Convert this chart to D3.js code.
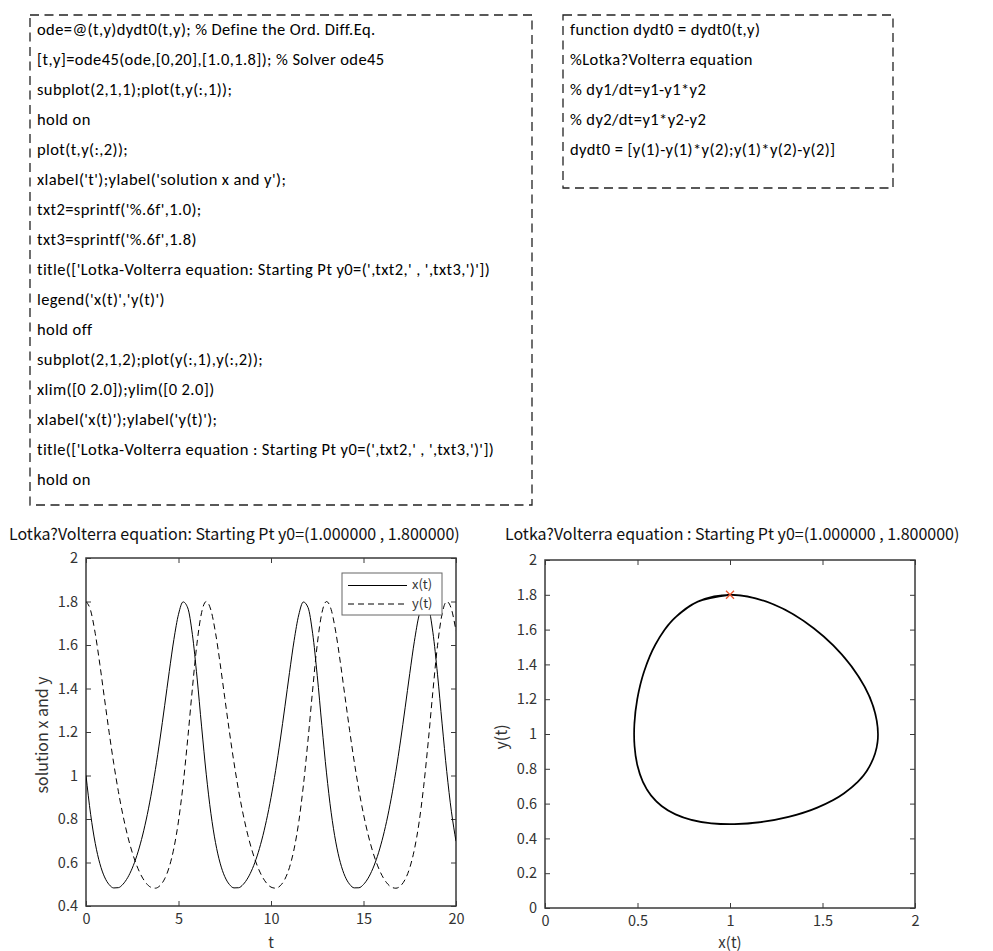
<!DOCTYPE html>
<html>
<head>
<meta charset="utf-8">
<script src="https://cdn.jsdelivr.net/npm/d3@7"></script>
<style>
  html, body { margin: 0; padding: 0; background: #fff; }
  svg { display: block; }
</style>
</head>
<body>
<svg id="chart" width="993" height="951"></svg>
<script>
// ---------------- data ----------------
const codeLinesMain = [
  "ode=@(t,y)dydt0(t,y); % Define the Ord. Diff.Eq.",
  "[t,y]=ode45(ode,[0,20],[1.0,1.8]); % Solver ode45",
  "subplot(2,1,1);plot(t,y(:,1));",
  "hold on",
  "plot(t,y(:,2));",
  "xlabel('t');ylabel('solution x and y');",
  "txt2=sprintf('%.6f',1.0);",
  "txt3=sprintf('%.6f',1.8)",
  "title(['Lotka-Volterra equation: Starting Pt y0=(',txt2,' , ',txt3,')'])",
  "legend('x(t)','y(t)')",
  "hold off",
  "subplot(2,1,2);plot(y(:,1),y(:,2));",
  "xlim([0 2.0]);ylim([0 2.0])",
  "xlabel('x(t)');ylabel('y(t)');",
  "title(['Lotka-Volterra equation : Starting Pt y0=(',txt2,' , ',txt3,')'])",
  "hold on"
];
const codeLinesFunc = [
  "function dydt0 = dydt0(t,y)",
  "%Lotka?Volterra equation",
  "% dy1/dt=y1-y1*y2",
  "% dy2/dt=y1*y2-y2",
  "dydt0 = [y(1)-y(1)*y(2);y(1)*y(2)-y(2)]"
];

const titleLeft = "Lotka?Volterra equation: Starting Pt y0=(1.000000 , 1.800000)";
const titleRight = "Lotka?Volterra equation : Starting Pt y0=(1.000000 , 1.800000)";

const tValues = [
  0,0.25,0.5,0.75,1,1.25,1.5,1.75,2,2.25,2.5,2.75,3,3.25,3.5,3.75,4,4.25,4.5,4.75,
  5,5.25,5.5,5.75,6,6.25,6.5,6.75,7,7.25,7.5,7.75,8,8.25,8.5,8.75,9,9.25,9.5,9.75,
  10,10.25,10.5,10.75,11,11.25,11.5,11.75,12,12.25,12.5,12.75,13,13.25,13.5,13.75,
  14,14.25,14.5,14.75,15,15.25,15.5,15.75,16,16.25,16.5,16.75,17,17.25,17.5,17.75,
  18,18.25,18.5,18.75,19,19.25,19.5,19.75,20
];
const xSeries = [
  1.0000,0.8216,0.6880,0.5947,0.5338,0.4984,0.4830,0.4843,0.5003,0.5302,0.5739,0.6320,0.7055,
  0.7953,0.9024,1.0270,1.1677,1.3207,1.4780,1.6253,1.7412,1.7981,1.7704,1.6489,1.4524,1.2235,
  1.0060,0.8263,0.6914,0.5970,0.5352,0.4991,0.4832,0.4840,0.4996,0.5291,0.5724,0.6300,0.7031,
  0.7924,0.8989,1.0230,1.1633,1.3160,1.4733,1.6212,1.7385,1.7976,1.7727,1.6538,1.4590,1.2304,
  1.0120,0.8310,0.6947,0.5993,0.5366,0.4999,0.4834,0.4838,0.4989,0.5280,0.5709,0.6281,0.7006,
  0.7894,0.8955,1.0190,1.1588,1.3113,1.4687,1.6172,1.7357,1.7970,1.7749,1.6588,1.4657,1.2373,
  1.0180,0.8356,0.6981
];
const ySeries = [
  1.8000,1.7587,1.6526,1.5098,1.3531,1.1984,1.0547,0.9267,0.8160,0.7226,0.6459,0.5847,0.5380,
  0.5053,0.4864,0.4820,0.4937,0.5247,0.5798,0.6658,0.7905,0.9597,1.1698,1.3995,1.6080,1.7500,
  1.7999,1.7611,1.6565,1.5144,1.3578,1.2029,1.0588,0.9303,0.8191,0.7252,0.6480,0.5863,0.5392,
  0.5061,0.4868,0.4819,0.4931,0.5234,0.5777,0.6627,0.7861,0.9540,1.1630,1.3927,1.6025,1.7471,
  1.7998,1.7634,1.6603,1.5190,1.3626,1.2074,1.0629,0.9339,0.8221,0.7277,0.6500,0.5879,0.5404,
  0.5069,0.4871,0.4818,0.4925,0.5222,0.5756,0.6596,0.7817,0.9482,1.1563,1.3859,1.5971,1.7441,
  1.7997,1.7658,1.6642
];
const startPoint = [1.0, 1.8];

const leftXTicks = [0, 5, 10, 15, 20];
const leftXTickLabels = ["0", "5", "10", "15", "20"];
const leftYTicks = [0.4, 0.6, 0.8, 1.0, 1.2, 1.4, 1.6, 1.8, 2.0];
const leftYTickLabels = ["0.4", "0.6", "0.8", "1", "1.2", "1.4", "1.6", "1.8", "2"];
const rightXTicks = [0, 0.5, 1, 1.5, 2];
const rightXTickLabels = ["0", "0.5", "1", "1.5", "2"];
const rightYTicks = [0, 0.2, 0.4, 0.6, 0.8, 1.0, 1.2, 1.4, 1.6, 1.8, 2.0];
const rightYTickLabels = ["0", "0.2", "0.4", "0.6", "0.8", "1", "1.2", "1.4", "1.6", "1.8", "2"];
const legendLabels = ["x(t)", "y(t)"];

// ---------------- drawing ----------------
const svg = d3.select("#chart");
svg.append("rect").attr("width", 993).attr("height", 951).attr("fill", "#fff");

const codeFont = "Carlito, Lato, 'Open Sans', sans-serif";
const plotFont = "'Noto Sans CJK JP', 'Liberation Sans', sans-serif";
const axisColor = "#3a3a3a";
const textColor = "#333";

// code boxes
function codeBox(x, y, w, h, lines, tx, ty, dy) {
  svg.append("rect").attr("x", x).attr("y", y).attr("width", w).attr("height", h)
    .attr("fill", "none").attr("stroke", "#222").attr("stroke-width", 1.3)
    .attr("stroke-dasharray", "9,5.5");
  svg.append("g").selectAll("text").data(lines).join("text")
    .attr("x", tx).attr("y", (d, i) => ty + i * dy)
    .attr("font-family", codeFont).attr("font-size", 16.5)
    .attr("letter-spacing", 0.4).attr("fill", "#000")
    .attr("dominant-baseline", "middle")
    .text(d => d);
}
codeBox(30, 15, 502, 490, codeLinesMain, 37, 31, 30);
codeBox(563, 15, 330, 173, codeLinesFunc, 570, 31, 30);

function drawAxes(box, xs, ys, xt, xtl, yt, ytl, xlabel, ylabel, title, titleX) {
  const g = svg.append("g");
  const tick = 5;
  const ax = d3.axisBottom(xs).tickValues(xt).tickSize(-tick).tickPadding(8)
    .tickFormat((d, i) => xtl[i]);
  g.append("g").attr("transform", `translate(0,${box.y1})`).call(ax);
  g.append("g").attr("transform", `translate(0,${box.y0})`)
    .call(d3.axisTop(xs).tickValues(xt).tickSize(-tick).tickFormat(""));
  const ay = d3.axisLeft(ys).tickValues(yt).tickSize(-tick).tickPadding(8)
    .tickFormat((d, i) => ytl[i]);
  g.append("g").attr("transform", `translate(${box.x0},0)`).call(ay);
  g.append("g").attr("transform", `translate(${box.x1},0)`)
    .call(d3.axisRight(ys).tickValues(yt).tickSize(-tick).tickFormat(""));
  g.selectAll(".domain").remove();
  g.selectAll(".tick line").attr("stroke", axisColor).attr("stroke-width", 1);
  g.selectAll(".tick text").attr("font-family", plotFont).attr("font-size", 14.5)
    .attr("fill", textColor);
  g.append("rect").attr("x", box.x0).attr("y", box.y0)
    .attr("width", box.x1 - box.x0).attr("height", box.y1 - box.y0)
    .attr("fill", "none").attr("stroke", axisColor).attr("stroke-width", 1.5);
  svg.append("text").attr("x", (box.x0 + box.x1) / 2).attr("y", 944)
    .attr("text-anchor", "middle").attr("dominant-baseline", "middle")
    .attr("font-family", plotFont).attr("font-size", 15).attr("fill", textColor)
    .text(xlabel);
  svg.append("text")
    .attr("transform", `translate(${box.x0 - 42},${(box.y0 + box.y1) / 2 + 3}) rotate(-90)`)
    .attr("text-anchor", "middle").attr("dominant-baseline", "middle")
    .attr("font-family", plotFont).attr("font-size", 16).attr("fill", textColor)
    .text(ylabel);
  svg.append("text").attr("x", titleX).attr("y", 535.5)
    .attr("dominant-baseline", "middle")
    .attr("font-family", plotFont).attr("font-size", 16).attr("fill", "#111")
    .text(title);
}

// ---- left: time series ----
const L = { x0: 86, x1: 456, y0: 558, y1: 906 };
const xL = d3.scaleLinear().domain([0, 20]).range([L.x0, L.x1]);
const yL = d3.scaleLinear().domain([0.4, 2]).range([L.y1, L.y0]);
drawAxes(L, xL, yL, leftXTicks, leftXTickLabels, leftYTicks, leftYTickLabels,
  "t", "solution x and y", titleLeft, 9);

const clipL = svg.append("clipPath").attr("id", "clipL");
clipL.append("rect").attr("x", L.x0).attr("y", L.y0).attr("width", L.x1 - L.x0).attr("height", L.y1 - L.y0);

const lineX = d3.line().x((d, i) => xL(tValues[i])).y(d => yL(d)).curve(d3.curveMonotoneX);
svg.append("path").datum(xSeries).attr("d", lineX).attr("clip-path", "url(#clipL)")
  .attr("fill", "none").attr("stroke", "#000").attr("stroke-width", 1);
svg.append("path").datum(ySeries).attr("d", lineX).attr("clip-path", "url(#clipL)")
  .attr("fill", "none").attr("stroke", "#000").attr("stroke-width", 1)
  .attr("stroke-dasharray", "6,4");

// legend
const lg = svg.append("g");
lg.append("rect").attr("x", 342).attr("y", 573).attr("width", 100).attr("height", 42)
  .attr("fill", "#fff").attr("stroke", "#666").attr("stroke-width", 1);
legendLabels.forEach((lab, i) => {
  const yy = 585.5 + i * 18.5;
  lg.append("line").attr("x1", 348).attr("x2", 407).attr("y1", yy).attr("y2", yy)
    .attr("stroke", "#000").attr("stroke-width", 1)
    .attr("stroke-dasharray", i === 1 ? "6,4" : null);
  lg.append("text").attr("x", 412).attr("y", yy).attr("dominant-baseline", "middle")
    .attr("font-family", plotFont).attr("font-size", 13).attr("fill", textColor).text(lab);
});

// ---- right: phase plane ----
const R = { x0: 545, x1: 915, y0: 560, y1: 908 };
const xR = d3.scaleLinear().domain([0, 2]).range([R.x0, R.x1]);
const yR = d3.scaleLinear().domain([0, 2]).range([R.y1, R.y0]);
drawAxes(R, xR, yR, rightXTicks, rightXTickLabels, rightYTicks, rightYTickLabels,
  "x(t)", "y(t)", titleRight, 505);

const phase = d3.line().x((d, i) => xR(xSeries[i])).y((d, i) => yR(ySeries[i]))
  .curve(d3.curveCatmullRom.alpha(0.5));
svg.append("path").datum(xSeries).attr("d", phase)
  .attr("fill", "none").attr("stroke", "#000").attr("stroke-width", 1.7)
  .attr("stroke-linejoin", "round");

const mx = xR(startPoint[0]), my = yR(startPoint[1]), ms = 4;
svg.append("path")
  .attr("d", `M${mx - ms},${my - ms}L${mx + ms},${my + ms}M${mx - ms},${my + ms}L${mx + ms},${my - ms}`)
  .attr("stroke", "#e8552d").attr("stroke-width", 1.3).attr("fill", "none");
</script>
</body>
</html>
